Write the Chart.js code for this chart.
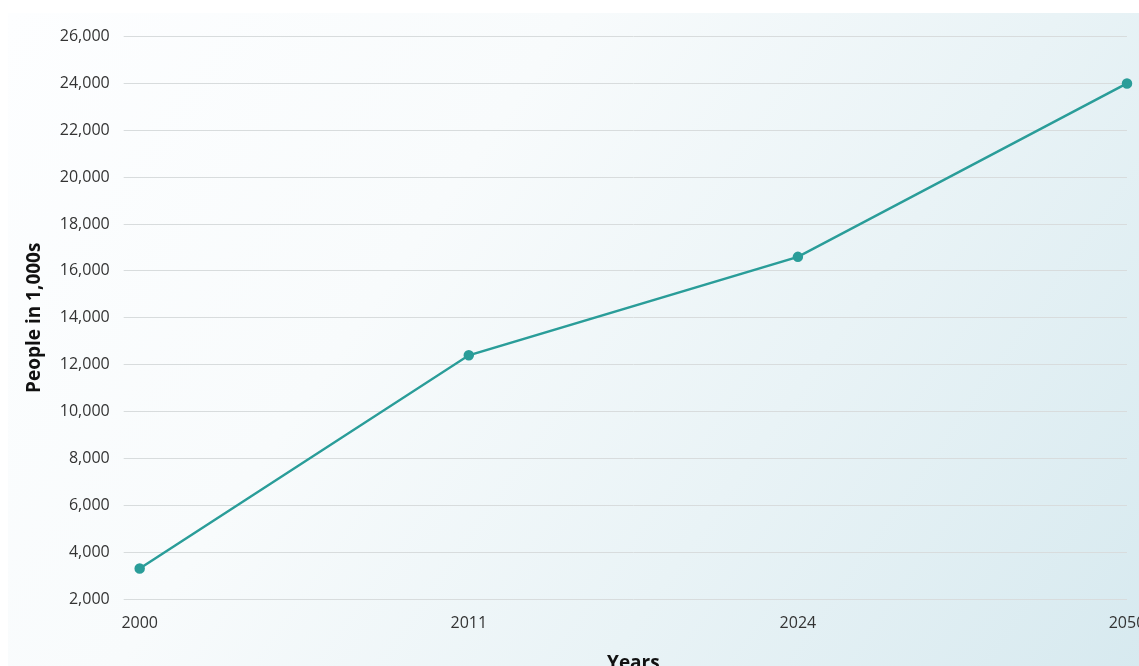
<!DOCTYPE html>
<html>

<head>
  <meta charset="utf-8">
  <title>People in 1,000s</title>
  <style>
    html, body {
      margin: 0;
      padding: 0;
      background: #ffffff;
      overflow: hidden;
      width: 1139px;
      height: 666px;
    }

    .chart-box {
      position: absolute;
      left: 8px;
      top: 13px;
      width: 1150px;
      height: 670px;
      background: linear-gradient(125deg, #fdfeff 0%, #f8fbfc 35%, #e9f3f6 65%, #d6e9ef 100%);
    }
  </style>
</head>

<body>
  <div class="chart-box">
    <canvas id="myChart"></canvas>
  </div>

  <script src="https://cdn.jsdelivr.net/npm/chart.js"></script>
  <script>
    // data
    const years = ['2000', '2011', '2024', '2050'];
    const people = [3300, 12400, 16600, 24000];

    // styles
    const lineColor = '#2a9d99';
    const gridColor = '#d8dcdd';
    const textColor = '#333333';

    const config = {
      type: 'line',
      data: {
        labels: years,
        datasets: [{
          label: 'People',
          data: people,
          borderColor: lineColor,
          backgroundColor: lineColor,
          borderWidth: 2.5,
          pointRadius: 4,
          pointHoverRadius: 5,
          tension: 0,
          fill: false
        }]
      },
      options: {
        responsive: true,
        maintainAspectRatio: false,
        animation: false,
        layout: {
          padding: { left: 11, right: 31, top: 23, bottom: 0 }
        },
        plugins: {
          legend: { display: false },
          tooltip: { enabled: false }
        },
        scales: {
          x: {
            grid: { display: false },
            border: { display: false },
            ticks: {
              color: textColor,
              padding: 7,
              maxRotation: 0,
              font: { family: 'Open Sans', size: 16 }
            },
            title: {
              display: true,
              text: 'Years',
              color: '#111111',
              padding: { top: 12, bottom: 8 },
              font: { family: 'Open Sans', size: 19, weight: 'bold' }
            }
          },
          y: {
            min: 2000,
            max: 26000,
            grid: {
              color: gridColor,
              lineWidth: 1,
              drawTicks: true,
              tickLength: 16
            },
            border: { display: false },
            ticks: {
              stepSize: 2000,
              color: textColor,
              padding: 14,
              font: { family: 'Open Sans', size: 16 },
              callback: (v) => v.toLocaleString('en-US')
            },
            title: {
              display: true,
              text: 'People in 1,000s',
              color: '#111111',
              padding: { top: 4, bottom: 0 },
              font: { family: 'Open Sans', size: 19, weight: 'bold' }
            }
          }
        }
      }
    };

    var ctx = document.getElementById('myChart').getContext('2d');
    var myChart = new Chart(ctx, config);
  </script>
</body>

</html>
